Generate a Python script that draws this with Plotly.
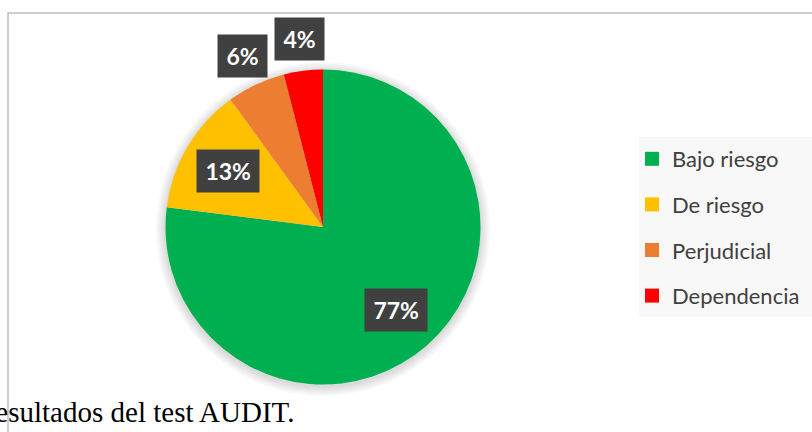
import math
import plotly.graph_objects as go

categories = ["Bajo riesgo", "De riesgo", "Perjudicial", "Dependencia"]
values = [77, 13, 6, 4]
colors = ["#00B050", "#FFC000", "#ED7D31", "#FF0000"]
caption = "Resultados del test AUDIT."

W, H = 812, 432
cx, cy, R = 323, 227, 157.5  # pie centre / radius in px


def px(x):
    return x / W


def py(y):
    return 1 - y / H


fig = go.Figure()
fig.add_trace(go.Pie(
    labels=categories, values=values, sort=False, direction="clockwise",
    rotation=0, marker=dict(colors=colors, line=dict(width=0)),
    textinfo="none", hoverinfo="label+percent", showlegend=False,
    domain=dict(x=[px(cx - R), px(cx + R)], y=[py(cy + R), py(cy - R)]),
))

# legend entries (one per category so that spacing can be controlled)
for lab, col in zip(categories, colors):
    fig.add_trace(go.Scatter(
        x=[None], y=[None], mode="markers", name=lab, legendgroup=lab,
        marker=dict(symbol="square", size=14, color=col),
    ))

# percentage labels
total = sum(values)
cum = 0
annotations = []
for v in values:
    mid = (cum + v / 2) / total
    cum += v
    ang = 2 * math.pi * mid
    rf = 0.70 if v / total >= 0.1 else 1.2
    lx = cx + rf * R * math.sin(ang)
    ly = cy - rf * R * math.cos(ang)
    annotations.append(dict(
        x=px(lx), y=py(ly), xref="paper", yref="paper", showarrow=False,
        xanchor="center", yanchor="middle",
        text=f"\u200a{round(100 * v / total)}%\u200a",
        font=dict(family="Lato", size=23, color="white", weight="bold"),
        bgcolor="#404040", borderpad=7,
    ))

annotations.append(dict(
    x=px(296), y=py(423), xref="paper", yref="paper", showarrow=False,
    xanchor="right", yanchor="bottom", text=caption, yshift=-7,
    font=dict(family="Liberation Serif", size=29, color="black"),
))

shapes = [
    dict(type="rect", xref="paper", yref="paper", x0=px(8), x1=px(W + 10),
         y0=py(H + 20), y1=py(13), line=dict(color="#BFBFBF", width=1.5),
         fillcolor="rgba(0,0,0,0)", layer="below"),
    dict(type="rect", xref="paper", yref="paper", x0=px(639), x1=px(W + 10),
         y0=py(317), y1=py(137), line=dict(width=0), fillcolor="#F8F8F8",
         layer="below"),
]
# soft shadow around the pie
for k in range(1, 7):
    rr = R + 1.6 * k
    shapes.append(dict(
        type="circle", xref="paper", yref="paper", layer="below",
        x0=px(cx - rr), x1=px(cx + rr), y0=py(cy + 2 + rr), y1=py(cy + 2 - rr),
        line=dict(width=0), fillcolor="rgba(0,0,0,0.022)",
    ))

fig.update_layout(
    width=W, height=H, margin=dict(l=0, r=0, t=0, b=0),
    paper_bgcolor="white", plot_bgcolor="white",
    xaxis=dict(visible=False), yaxis=dict(visible=False),
    showlegend=True,
    legend=dict(x=px(632), y=py(138), xanchor="left", yanchor="top",
                bgcolor="rgba(0,0,0,0)", tracegroupgap=14,
                font=dict(family="Lato", size=22, color="#404040")),
    annotations=annotations, shapes=shapes,
)

fig.write_html(
    "out.html",
    config={"displayModeBar": False},
    post_script="document.body.style.margin='0';document.body.style.overflow='hidden';",
)
